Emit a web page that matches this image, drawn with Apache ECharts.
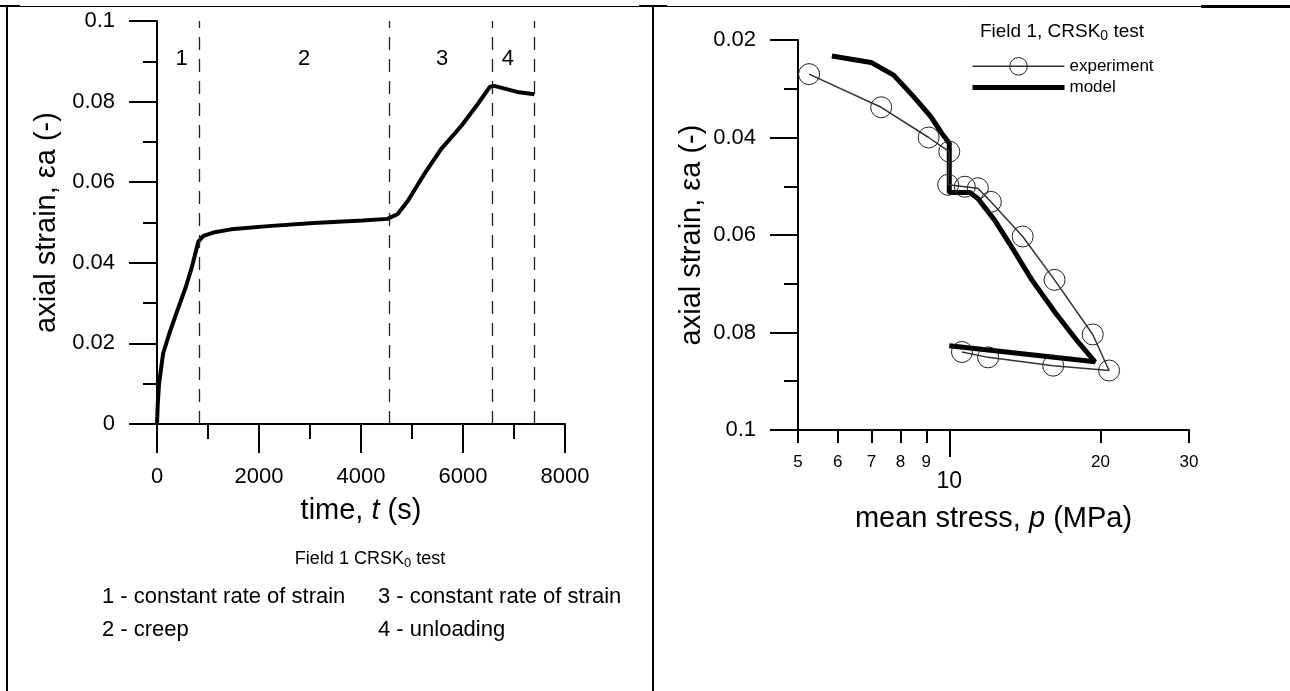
<!DOCTYPE html>
<html><head><meta charset="utf-8">
<script src="https://cdn.jsdelivr.net/npm/echarts@6/dist/echarts.min.js"></script>
<style>html,body{margin:0;padding:0;background:#fff}#c{width:1290px;height:691px}</style>
</head><body><div id="c"></div>
<script>
const FONT = '"Liberation Sans", Arial, sans-serif';

// ---- Left chart: axial strain vs time ----
const timeS   = [0, 15, 40, 120, 240, 400, 565, 685, 810, 900, 1130, 1450, 2180, 3070, 4030, 4520, 4720, 4920, 5240, 5570, 5970, 6290, 6530, 6610, 7100, 7400];
const strainT = [0, 0.005, 0.010, 0.0175, 0.0224, 0.0282, 0.034, 0.039, 0.0452, 0.0466, 0.0476, 0.0483, 0.0491, 0.0499, 0.0505, 0.0509, 0.0521, 0.0554, 0.062, 0.0682, 0.074, 0.0794, 0.0837, 0.0839, 0.0823, 0.0818];
const phaseBounds = [820, 4550, 6570, 7390];
const phaseNames  = ['1', '2', '3', '4'];
const phaseX      = [484, 2887, 5589, 6879];
const phaseY      = [0.0905, 0.0905, 0.0905, 0.0905];
const timeTicks = { min: 0, max: 8000, interval: 2000 };
const strainTicksL = { min: 0, max: 0.1, interval: 0.02 };

// ---- Right chart: axial strain vs mean stress (log) ----
const expP = [5.26, 7.32, 9.10, 10.0, 9.95, 10.74, 11.4, 12.1, 14.0, 16.2, 19.3, 20.8, 16.1, 11.95, 10.6];
const expE = [0.0270, 0.0338, 0.0400, 0.0429, 0.0497, 0.0501, 0.0504, 0.0532, 0.0603, 0.0692, 0.0804, 0.0878, 0.0868, 0.0851, 0.0840];
const modelP = [5.84, 6.99, 7.75, 8.44, 9.19, 9.66, 10.0, 10.0, 10.99, 11.4, 12.3, 13.3, 14.6, 16.3, 17.9, 19.5, 10.0];
const modelE = [0.0233, 0.0246, 0.0272, 0.0313, 0.0357, 0.0391, 0.0412, 0.0513, 0.0513, 0.0525, 0.0569, 0.0624, 0.0692, 0.0761, 0.0815, 0.0860, 0.0827];
const pTicksSmall = [5, 6, 7, 8, 9, 20, 30];
const pTicksBig = [10];
const strainTicksR = { min: 0.02, max: 0.1, interval: 0.02 };

const noteLines = ['1 - constant rate of strain', '2 - creep', '3 - constant rate of strain', '4 - unloading'];

const zip = (a, b) => a.map((v, i) => [v, b[i]]);
const axisLine = { show: true, onZero: false, lineStyle: { color: '#000', width: 2 } };

const chart = echarts.init(document.getElementById('c'), null, { renderer: 'canvas' });
chart.setOption({
  animation: false,
  backgroundColor: '#fff',
  textStyle: { fontFamily: FONT, color: '#000' },
  grid: [
    { left: 157, top: 21, width: 408, height: 403, outerBoundsMode: 'none', containLabel: false },
    { left: 798, top: 40, width: 391, height: 390, outerBoundsMode: 'none', containLabel: false }
  ],
  legend: {
    data: [
      { name: 'experiment', itemStyle: { color: 'rgba(255,255,255,0)', borderColor: '#222', borderWidth: 1 }, lineStyle: { color: '#333', width: 1.5 } },
      { name: 'model', itemStyle: { color: 'rgba(0,0,0,0)', borderWidth: 0, opacity: 0 }, lineStyle: { color: '#000', width: 5 } }
    ],
    left: 965, top: 52, orient: 'vertical',
    itemWidth: 92, itemHeight: 22, itemGap: 3,
    selectedMode: false,
    textStyle: { fontSize: 17, fontFamily: FONT, color: '#000' }
  },
  xAxis: [
    {
      type: 'value', gridIndex: 0, position: 'bottom', min: timeTicks.min, max: timeTicks.max, interval: timeTicks.interval,
      axisLine, splitLine: { show: false },
      axisTick: { show: true, length: 29, lineStyle: { color: '#000', width: 2 } },
      minorTick: { show: true, splitNumber: 2, length: 15, lineStyle: { color: '#000', width: 2 } },
      axisLabel: { fontSize: 22, margin: 42, color: '#000', formatter: v => String(v) },
      name: 'time, {i|t} (s)', nameLocation: 'middle', nameGap: 72,
      nameTextStyle: { fontSize: 29, color: '#000', rich: { i: { fontSize: 29, fontStyle: 'italic' } } }
    },
    {
      type: 'log', gridIndex: 1, position: 'bottom', offset: 0, min: 5, max: 30, logBase: 10,
      axisLine, splitLine: { show: false },
      axisTick: { show: true, length: 13, customValues: pTicksSmall, lineStyle: { color: '#000', width: 2 } },
      axisLabel: { customValues: pTicksSmall, fontSize: 17, margin: 24, color: '#000' },
      minorTick: { show: false }
    },
    {
      type: 'log', gridIndex: 1, position: 'bottom', offset: 0, min: 5, max: 30, logBase: 10,
      axisLine: { show: false }, splitLine: { show: false },
      axisTick: { show: true, length: 27, customValues: pTicksBig, lineStyle: { color: '#000', width: 2 } },
      axisLabel: { customValues: pTicksBig, fontSize: 23, margin: 40, color: '#000' },
      name: 'mean stress, {i|p} (MPa)', nameLocation: 'middle', nameGap: 74,
      nameTextStyle: { fontSize: 29, color: '#000', rich: { i: { fontSize: 29, fontStyle: 'italic' } } }
    }
  ],
  yAxis: [
    {
      type: 'value', gridIndex: 0, min: strainTicksL.min, max: strainTicksL.max, interval: strainTicksL.interval,
      axisLine, splitLine: { show: false },
      axisTick: { show: true, length: 28, lineStyle: { color: '#000', width: 2 } },
      minorTick: { show: true, splitNumber: 2, length: 14, lineStyle: { color: '#000', width: 2 } },
      axisLabel: { fontSize: 22, margin: 42, color: '#000' },
      name: 'axial strain, εa (-)', nameLocation: 'middle', nameGap: 96, nameRotate: 90,
      nameTextStyle: { fontSize: 29, color: '#000' }
    },
    {
      type: 'value', gridIndex: 1, inverse: true, min: strainTicksR.min, max: strainTicksR.max, interval: strainTicksR.interval,
      axisLine, splitLine: { show: false },
      axisTick: { show: true, length: 28, lineStyle: { color: '#000', width: 2 } },
      minorTick: { show: true, splitNumber: 2, length: 14, lineStyle: { color: '#000', width: 2 } },
      axisLabel: { fontSize: 22, margin: 42, color: '#000' },
      name: 'axial strain, εa (-)', nameLocation: 'middle', nameGap: 92, nameRotate: 90,
      nameTextStyle: { fontSize: 29, color: '#000' }
    }
  ],
  series: [
    {
      type: 'line', name: 'strain-time', xAxisIndex: 0, yAxisIndex: 0,
      data: zip(timeS, strainT), symbol: 'none', smooth: false,
      lineStyle: { color: '#000', width: 4 },
      markLine: {
        silent: true, symbol: 'none', label: { show: false },
        lineStyle: { type: [13, 9], color: '#222', width: 1.3 },
        data: phaseBounds.map(v => ({ xAxis: v }))
      }
    },
    {
      type: 'scatter', name: 'phases', xAxisIndex: 0, yAxisIndex: 0,
      data: phaseX.map((x, i) => [x, phaseY[i], phaseNames[i]]),
      symbolSize: 1, itemStyle: { color: 'rgba(0,0,0,0)' }, silent: true,
      label: { show: true, position: 'inside', fontSize: 22, color: '#000', opacity: 1, formatter: p => p.value[2] }
    },
    {
      type: 'line', name: 'model', xAxisIndex: 1, yAxisIndex: 1,
      data: zip(modelP, modelE), symbol: 'none', smooth: false,
      lineStyle: { color: '#000', width: 5 }, itemStyle: { color: '#000' }
    },
    {
      type: 'line', name: 'experiment', xAxisIndex: 1, yAxisIndex: 1,
      data: zip(expP, expE), symbol: 'circle', symbolSize: 21, showSymbol: true, smooth: false,
      lineStyle: { color: '#333', width: 1.5 },
      itemStyle: { color: 'rgba(255,255,255,0)', borderColor: '#222', borderWidth: 1 }
    }
  ],
  graphic: [
    { type: 'line', shape: { x1: 0, y1: 6.5, x2: 1290, y2: 6.5 }, style: { stroke: '#000', lineWidth: 1 } },
    { type: 'line', shape: { x1: 0, y1: 6, x2: 20, y2: 6 }, style: { stroke: '#000', lineWidth: 2 } },
    { type: 'line', shape: { x1: 639, y1: 6, x2: 667, y2: 6 }, style: { stroke: '#000', lineWidth: 2 } },
    { type: 'line', shape: { x1: 1201, y1: 6.5, x2: 1290, y2: 6.5 }, style: { stroke: '#000', lineWidth: 3 } },
    { type: 'line', shape: { x1: 7, y1: 6, x2: 7, y2: 691 }, style: { stroke: '#000', lineWidth: 2 } },
    { type: 'line', shape: { x1: 653, y1: 6, x2: 653, y2: 691 }, style: { stroke: '#000', lineWidth: 2 } },
    {
      type: 'text', x: 370, y: 559,
      style: {
        text: 'Field 1 CRSK{s|0} test', align: 'center', verticalAlign: 'middle',
        font: '18px ' + FONT, fill: '#000',
        rich: { s: { fontSize: 13, fontFamily: FONT, padding: [9, 0, 0, 0] } }
      }
    },
    { type: 'text', x: 102, y: 597, style: { text: noteLines[0], font: '22px ' + FONT, fill: '#000', verticalAlign: 'middle' } },
    { type: 'text', x: 102, y: 630, style: { text: noteLines[1], font: '22px ' + FONT, fill: '#000', verticalAlign: 'middle' } },
    { type: 'text', x: 378, y: 597, style: { text: noteLines[2], font: '22px ' + FONT, fill: '#000', verticalAlign: 'middle' } },
    { type: 'text', x: 378, y: 630, style: { text: noteLines[3], font: '22px ' + FONT, fill: '#000', verticalAlign: 'middle' } },
    {
      type: 'text', x: 1062, y: 32,
      style: {
        text: 'Field 1, CRSK{s|0} test', align: 'center', verticalAlign: 'middle',
        font: '19px ' + FONT, fill: '#000',
        rich: { s: { fontSize: 14, fontFamily: FONT, padding: [9, 0, 0, 0] } }
      }
    }
  ]
});
</script></body></html>
